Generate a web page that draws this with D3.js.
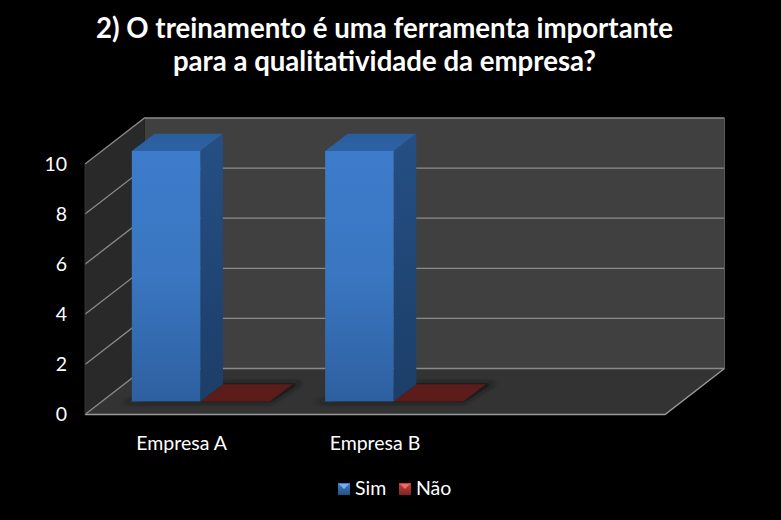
<!DOCTYPE html>
<html><head><meta charset="utf-8">
<script src="https://cdn.jsdelivr.net/npm/d3@7"></script>
<style>html,body{margin:0;padding:0;background:#000}svg{display:block}text{font-family:Lato,"Open Sans",sans-serif;fill:#fff}</style>
</head><body><svg id="c" width="781" height="520"></svg>
<script>
const titleLines = ["2) O treinamento é uma ferramenta importante","para a qualitatividade da empresa?"];
const categories = ["Empresa A","Empresa B",""];
const seriesNames = ["Sim","Não"];
const sim = [10,10];
const nao = [0,0];
const yTicks = [0,2,4,6,8,10];

const svg = d3.select("#c");
const W=781,H=520;
svg.append("rect").attr("width",W).attr("height",H).attr("fill","#000");
const defs = svg.append("defs");
function grad(id,stops,x2=0,y2=1){
  const g=defs.append("linearGradient").attr("id",id).attr("x1",0).attr("y1",0).attr("x2",x2).attr("y2",y2);
  stops.forEach((c,i)=>g.append("stop").attr("offset",i/(stops.length-1)).attr("stop-color",c));
}
grad("front",["#3d7ccb","#3a76c1","#2d60a0"]);
grad("side",["#254f84","#1c3e68"]);
grad("top",["#2a5d9c","#2c62a6"]);
grad("lgB",["#3f7fc8","#264f86"]);
grad("lgR",["#c9403c","#7c2523"]);
defs.append("filter").attr("id","blur").attr("x","-20%").attr("y","-50%").attr("width","140%").attr("height","200%")
  .append("feGaussianBlur").attr("stdDeviation",2.5);

const x = d3.scaleBand().domain(categories).range([85,665]).paddingInner(0).paddingOuter(0);
const y = d3.scaleLinear().domain([0,10]).range([414.5,164]);
const depthX = d3.scaleLinear().domain([0,1]).range([0,59.5]);
const depthY = d3.scaleLinear().domain([0,1]).range([0,-46]);
const pt=(px,v,d)=>[px+depthX(d),y(v)+depthY(d)];
const line=d3.line();
const poly=(pts,fill)=>svg.append("path").attr("d",line(pts)+"Z").attr("fill",fill);
const [x0,x1]=x.range();

// walls and floor
poly([pt(x0,0,1),pt(x1,0,1),pt(x1,10,1),pt(x0,10,1)],"#404040");
poly([pt(x0,0,0),pt(x0,0,1),pt(x0,10,1),pt(x0,10,0)],"#292929");
poly([pt(x0,0,0),pt(x1,0,0),pt(x1,0,1),pt(x0,0,1)],"#333333");

// gridlines
yTicks.forEach(t=>{
  svg.append("path").attr("d",line([pt(x0,t,0),pt(x0,t,1),pt(x1,t,1)]))
    .attr("fill","none").attr("stroke","#8a8a8a").attr("stroke-width",1.3);
});
svg.append("path").attr("d",line([pt(x0,0,0),pt(x1,0,0),pt(x1,0,1)])).attr("fill","none").attr("stroke","#9a9a9a").attr("stroke-width",1.4);
svg.append("path").attr("d",line([pt(x0,0,0),pt(x0,10,0)])).attr("fill","none").attr("stroke","#333").attr("stroke-width",1);
svg.append("path").attr("d",line([pt(x1,0,1),pt(x1,10,1)])).attr("fill","none").attr("stroke","#5a5a5a").attr("stroke-width",1);

// bars
const d0=.28,d1=.66,bw=68.5;
categories.slice(0,2).forEach((c,i)=>{
  const cx=x(c)+x.bandwidth()/2;
  const l=cx-bw+2, m=cx+2, r=cx+bw+3;
  // shadow
  poly([pt(l-10,0,d0-.02),pt(r+2,0,d0-.02),pt(r+8,0,d1+.03),pt(m,0,d1+.03)],"#151515").attr("filter","url(#blur)");
  // Não
  poly([pt(m,nao[i],d0),pt(r,nao[i],d0),pt(r,nao[i],d1),pt(m,nao[i],d1)],"#5c1d1a");
  // Sim
  poly([pt(l,sim[i],d0),pt(m,sim[i],d0),pt(m,sim[i],d1),pt(l,sim[i],d1)],"url(#top)");
  poly([pt(m,0,d0),pt(m,0,d1),pt(m,sim[i],d1),pt(m,sim[i],d0)],"url(#side)");
  poly([pt(l,0,d0),pt(m,0,d0),pt(m,sim[i],d0),pt(l,sim[i],d0)],"url(#front)");
});

// y tick labels
yTicks.forEach(t=>{
  svg.append("text").attr("x",67).attr("y",y(t)+6.5).attr("text-anchor","end").attr("font-size",19.5).text(t);
});
// category labels
categories.forEach(c=>{
  svg.append("text").attr("x",x(c)+x.bandwidth()/2).attr("y",449.5).attr("text-anchor","middle").attr("font-size",19.5).text(c);
});
// title
titleLines.forEach((s,i)=>{
  svg.append("text").attr("x",384.5).attr("y",37.5+i*33.5).attr("text-anchor","middle").attr("font-size",27.6).attr("font-weight",700).text(s);
});
// legend
const lx=[338,399], tx=[355,416], fills=["url(#lgB)","url(#lgR)"], tri=["#6fb2f0","#ef6a66"];
seriesNames.forEach((n,i)=>{
  svg.append("rect").attr("x",lx[i]).attr("y",483).attr("width",12).attr("height",12).attr("fill",fills[i]);
  svg.append("path").attr("d",line([[lx[i]+1,484],[lx[i]+11,484],[lx[i]+6,489]])+"Z").attr("fill",tri[i]);
  svg.append("text").attr("x",tx[i]).attr("y",495).attr("font-size",19.5).text(n);
});
</script></body></html>
